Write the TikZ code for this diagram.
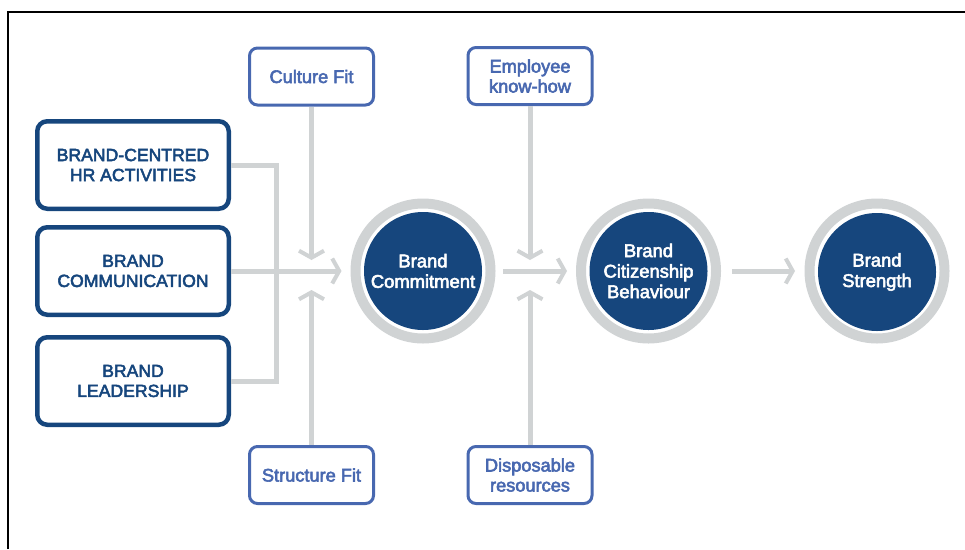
\documentclass[tikz,border=0pt]{standalone}
\usepackage{fontspec}
\setmainfont{Liberation Sans}[FakeBold=3]
\usetikzlibrary{arrows.meta}
\definecolor{navy}{RGB}{22,70,125}
\definecolor{royal}{RGB}{72,104,176}
\definecolor{ringgray}{RGB}{208,211,212}
\begin{document}
\begin{tikzpicture}[x=1pt,y=-1pt,
  every node/.style={align=center, inner sep=0pt},
  strongbox/.style={draw=navy, line width=4.5pt, rounded corners=10pt, minimum width=191.5pt, minimum height=87.5pt, text=navy, font=\fontsize{17.6}{20}\selectfont},
  softbox/.style={draw=royal, line width=3pt, rounded corners=8pt, minimum width=124pt, minimum height=57pt, text=royal, font=\fontsize{18.2}{20}\selectfont},
  core/.style={circle, fill=navy, minimum size=118pt, text=white, font=\fontsize{18.4}{20.5}\selectfont},
  ring/.style={circle, draw=ringgray, line width=10pt, minimum size=135pt},
  flow/.style={draw=ringgray, line width=5pt},
  tip/.style={-{Straight Barb[length=7pt,width=25pt,line width=4pt]}}
]
\useasboundingbox (0,0) rectangle (965,549);
\draw[black, line width=1.2pt] (8,549) -- (8,12) -- (965,12);

\node[strongbox] (hr) at (133,165) {BRAND-CENTRED\\HR ACTIVITIES};
\node[strongbox] (comm) at (133,271) {BRAND\\COMMUNICATION};
\node[strongbox] (lead) at (133,381) {BRAND\\LEADERSHIP};

\node[softbox] (culture) at (311.5,76.5) {Culture Fit};
\node[softbox] (know) at (530,76) {Employee\\know-how};
\node[softbox] (struct) at (311.5,475) {Structure Fit};
\node[softbox] (disp) at (530,475) {Disposable\\resources};

\node[ring] (commitR) at (423,271) {};
\node[core] (commit) at (423,271) {Brand\\Commitment};
\node[ring] (citR) at (648.5,271) {};
\node[core] (cit) at (648.5,271) {Brand\\Citizenship\\Behaviour};
\node[ring] (strR) at (877,271) {};
\node[core] (str) at (877,272) {Brand\\Strength};

\coordinate (join) at (276,271);
\coordinate (cfTip) at (311.5,260);
\coordinate (sfTip) at (311.5,290);
\coordinate (ekTip) at (530,260);
\coordinate (drTip) at (530,290);

\draw[flow] (hr.east) -| (join) |- (lead.east);
\draw[flow,tip,shorten >=9pt] (comm.east) -- (commitR.west);
\draw[flow,tip] (culture.south) -- (cfTip);
\draw[flow,tip] (struct.north) -- (sfTip);
\draw[flow,tip] (know.south) -- (ekTip);
\draw[flow,tip] (disp.north) -- (drTip);
\draw[flow,tip,shorten <=7.5pt,shorten >=9pt] (commitR.east) -- (citR.west);
\draw[flow,tip,shorten <=11pt,shorten >=9.5pt] (citR.east) -- (strR.west);
\end{tikzpicture}
\end{document}
